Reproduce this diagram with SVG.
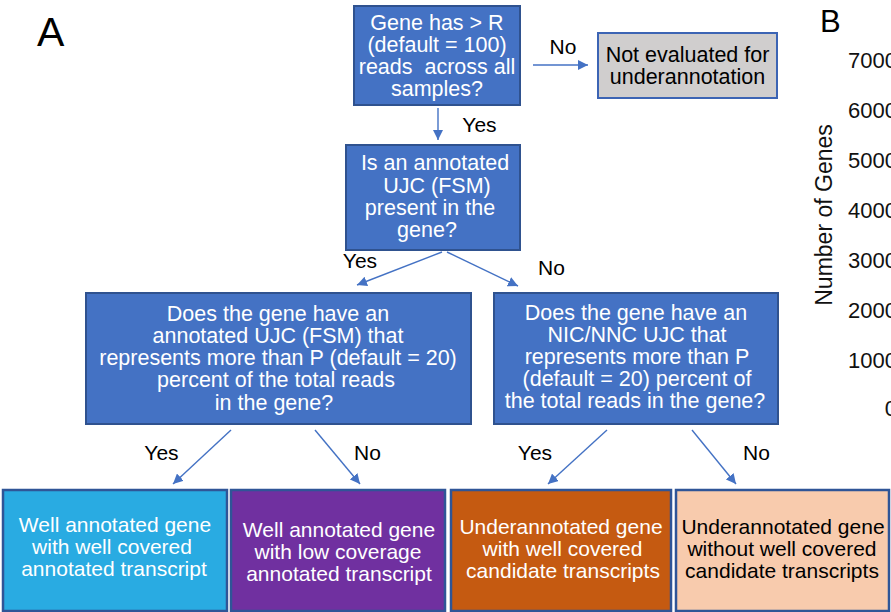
<svg xmlns="http://www.w3.org/2000/svg" width="891" height="612" viewBox="0 0 891 612">
<style>
  text { font-family: "Liberation Sans", Arial, sans-serif; }
  .t { font-size: 21.5px; fill: #ffffff; text-anchor: middle; }
  .tk { font-size: 21.5px; fill: #000000; text-anchor: middle; }
  .tl { font-size: 21px; fill: #ffffff; text-anchor: middle; }
  .tlk { font-size: 21px; fill: #000000; text-anchor: middle; }
  .lbl { font-size: 21px; fill: #000000; text-anchor: middle; }
  .blue { fill: #4472C4; stroke: #2F528F; stroke-width: 2; }
  .gray { fill: #D0CECE; stroke: #3C64B4; stroke-width: 2; }
  .leaf { stroke: #2F5597; stroke-width: 2.5; }
  .conn { stroke: #4472C4; stroke-width: 1.4; fill: none; marker-end: url(#ah); }
  .tick { font-size: 22px; fill: #111111; text-anchor: end; }
</style>
<defs>
  <marker id="ah" markerUnits="userSpaceOnUse" markerWidth="10" markerHeight="10" refX="10" refY="5" orient="auto" viewBox="0 0 10 10">
    <path d="M0,0 L10,5 L0,10 z" fill="#4472C4"/>
  </marker>
</defs>
<rect width="891" height="612" fill="#ffffff"/>

<text x="37" y="46" font-size="41" fill="#000">A</text>
<text x="820" y="32" font-size="31" fill="#000">B</text>

<g id="connectors">
  <line class="conn" x1="438" y1="108" x2="438" y2="140"/>
  <line class="conn" x1="533" y1="65" x2="588" y2="65"/>
  <line class="conn" x1="442" y1="252" x2="357" y2="285"/>
  <line class="conn" x1="447" y1="252" x2="518" y2="286"/>
  <line class="conn" x1="231" y1="430" x2="173" y2="484"/>
  <line class="conn" x1="315" y1="430" x2="360" y2="484"/>
  <line class="conn" x1="607" y1="430" x2="548" y2="484"/>
  <line class="conn" x1="692" y1="430" x2="736" y2="484"/>
  <text class="lbl" x="563" y="54">No</text>
  <text class="lbl" x="479.5" y="132">Yes</text>
  <text class="lbl" x="360" y="268">Yes</text>
  <text class="lbl" x="551.5" y="275">No</text>
  <text class="lbl" x="161.5" y="460">Yes</text>
  <text class="lbl" x="367.5" y="460">No</text>
  <text class="lbl" x="535" y="460">Yes</text>
  <text class="lbl" x="756.5" y="460">No</text>
</g>

<g id="q1">
  <rect class="blue" x="354" y="6" width="166" height="99"/>
  <text class="t" x="437" y="30">Gene has &gt; R</text>
  <text class="t" x="437" y="52">(default = 100)</text>
  <text class="t" x="437" y="74" xml:space="preserve">reads  across all</text>
  <text class="t" x="437" y="96">samples?</text>
</g>

<g id="not-evaluated">
  <rect class="gray" x="598" y="33" width="179" height="65"/>
  <text class="tk" x="687.5" y="61.5">Not evaluated for</text>
  <text class="tk" x="687.5" y="83.5">underannotation</text>
</g>

<g id="q2">
  <rect class="blue" x="346" y="145" width="174" height="105"/>
  <text class="t" x="435" y="170">Is an annotated</text>
  <text class="t" x="437" y="192.5">UJC (FSM)</text>
  <text class="t" x="430" y="215">present in the</text>
  <text class="t" x="427" y="237">gene?</text>
</g>

<g id="q3-left">
  <rect class="blue" x="86" y="293" width="385" height="131"/>
  <text class="t" x="278" y="321">Does the gene have an</text>
  <text class="t" x="278" y="343">annotated UJC (FSM) that</text>
  <text class="t" x="278" y="365">represents more than P (default = 20)</text>
  <text class="t" x="276" y="387">percent of the total reads</text>
  <text class="t" x="274" y="410">in the gene?</text>
</g>

<g id="q3-right">
  <rect class="blue" x="494" y="293" width="284" height="131"/>
  <text class="t" x="636" y="320">Does the gene have an</text>
  <text class="t" x="637" y="342">NIC/NNC UJC that</text>
  <text class="t" x="637" y="364">represents more than P</text>
  <text class="t" x="637" y="386">(default = 20) percent of</text>
  <text class="t" x="635" y="408">the total reads in the gene?</text>
</g>

<g id="leaf-1">
  <rect class="leaf" x="3" y="490" width="224" height="121" fill="#29ABE2"/>
  <text class="tl" x="115" y="532">Well annotated gene</text>
  <text class="tl" x="112" y="554">with well covered</text>
  <text class="tl" x="114" y="576">annotated transcript</text>
</g>

<g id="leaf-2">
  <rect class="leaf" x="231" y="490" width="214" height="121" fill="#7030A0"/>
  <text class="tl" x="339" y="537">Well annotated gene</text>
  <text class="tl" x="338" y="559">with low coverage</text>
  <text class="tl" x="339" y="581">annotated transcript</text>
</g>

<g id="leaf-3">
  <rect class="leaf" x="451" y="490" width="220" height="121" fill="#C55A11"/>
  <text class="tl" x="561" y="534">Underannotated gene</text>
  <text class="tl" x="562.5" y="556">with well covered</text>
  <text class="tl" x="563" y="578">candidate transcripts</text>
</g>

<g id="leaf-4">
  <rect class="leaf" x="676" y="490" width="213" height="121" fill="#F8CBAD"/>
  <text class="tlk" x="783" y="534">Underannotated gene</text>
  <text class="tlk" x="782" y="556">without well covered</text>
  <text class="tlk" x="782" y="578">candidate transcripts</text>
</g>

<g id="chart-b">
  <text x="832" y="215" font-size="23" fill="#111" text-anchor="middle" transform="rotate(-90 832 215)">Number of Genes</text>
  <text class="tick" x="897" y="68">7000</text>
  <text class="tick" x="897" y="118">6000</text>
  <text class="tick" x="897" y="168">5000</text>
  <text class="tick" x="897" y="218">4000</text>
  <text class="tick" x="897" y="268">3000</text>
  <text class="tick" x="897" y="318">2000</text>
  <text class="tick" x="897" y="368">1000</text>
  <text class="tick" x="897" y="416">0</text>
</g>
</svg>
